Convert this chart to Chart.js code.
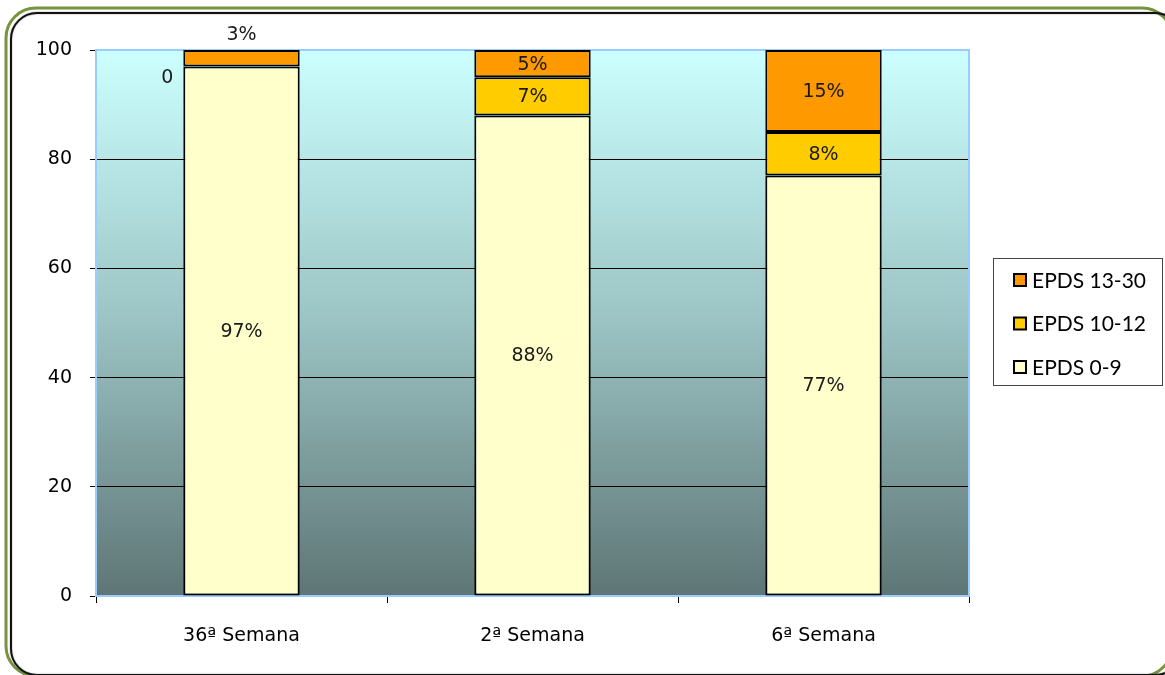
<!DOCTYPE html>
<html>
<head>
<meta charset="utf-8">
<script src="https://cdn.jsdelivr.net/npm/chart.js@4"></script>
<style>
  html, body { margin: 0; padding: 0; background: #fff; }
  #chart { display: block; }
</style>
</head>
<body>
<canvas id="chart" width="1165" height="675"></canvas>
<script>
const categories = ['36ª Semana', '2ª Semana', '6ª Semana'];
const epds0to9 = [97, 88, 77];
const epds10to12 = [0, 7, 8];
const epds13to30 = [3, 5, 15];
const seriesNames = ['EPDS 0-9', 'EPDS 10-12', 'EPDS 13-30'];
const seriesColors = ['#ffffcc', '#ffcc00', '#ff9900'];
const yTicks = [0, 20, 40, 60, 80, 100];

const axisFont = { family: 'DejaVu Sans', size: 19 };

// marco redondeado + fondo degradado del área de trazado
const backgroundPlugin = {
    id: 'backgroundPlugin',
    beforeDraw(chart) {
        const ctx = chart.ctx;
        const a = chart.chartArea;
        ctx.save();
        ctx.fillStyle = '#fff';
        ctx.fillRect(0, 0, chart.width, chart.height);

        ctx.lineWidth = 3;
        ctx.strokeStyle = '#77933c';
        ctx.beginPath();
        ctx.roundRect(6, 8, 1166, 668, 30);
        ctx.stroke();

        ctx.lineWidth = 2;
        ctx.strokeStyle = '#111';
        ctx.shadowColor = 'rgba(0,0,0,0.35)';
        ctx.shadowBlur = 2;
        ctx.beginPath();
        ctx.roundRect(11, 13, 1170, 662, 26);
        ctx.stroke();
        ctx.shadowBlur = 0;
        ctx.shadowColor = 'transparent';

        const grad = ctx.createLinearGradient(0, a.top, 0, a.bottom);
        grad.addColorStop(0, '#ccffff');
        grad.addColorStop(0.5, '#9bc3c3');
        grad.addColorStop(1, '#5e7575');
        ctx.fillStyle = grad;
        ctx.fillRect(a.left, a.top, a.right - a.left, a.bottom - a.top);
        ctx.restore();
    },
    beforeDatasetsDraw(chart) {
        const ctx = chart.ctx;
        const a = chart.chartArea;
        ctx.save();
        ctx.strokeStyle = '#99ccff';
        ctx.lineWidth = 2;
        ctx.beginPath();
        ctx.moveTo(a.left, a.top);
        ctx.lineTo(a.right, a.top);
        ctx.lineTo(a.right, a.bottom);
        ctx.stroke();
        ctx.restore();
    }
};

// etiquetas de porcentaje sobre cada segmento
const labelPlugin = {
    id: 'labelPlugin',
    afterDatasetsDraw(chart) {
        const ctx = chart.ctx;
        const last = chart.data.datasets.length - 1;
        ctx.save();
        ctx.font = '19px "DejaVu Sans"';
        ctx.fillStyle = '#1a1a1a';
        ctx.textBaseline = 'middle';
        chart.data.datasets.forEach((ds, i) => {
            const meta = chart.getDatasetMeta(i);
            meta.data.forEach((bar, j) => {
                const v = ds.data[j];
                const h = Math.abs(bar.base - bar.y);
                if (v === 0) {
                    ctx.textAlign = 'right';
                    ctx.fillText('0', bar.x - bar.width / 2 - 10, bar.y + 12);
                } else if (h < 25 && i === last) {
                    ctx.textAlign = 'center';
                    ctx.fillText(v + '%', bar.x, bar.y - 15);
                } else {
                    ctx.textAlign = 'center';
                    ctx.fillText(v + '%', bar.x, (bar.y + bar.base) / 2 + 1);
                }
            });
        });
        ctx.restore();
    }
};

// leyenda con recuadro a la derecha
const legendBoxPlugin = {
    id: 'legendBoxPlugin',
    afterDraw(chart) {
        const ctx = chart.ctx;
        const x = 993, y = 258, w = 169, h = 127;
        ctx.save();
        ctx.strokeStyle = '#444';
        ctx.lineWidth = 1;
        ctx.strokeRect(x + 0.5, y + 0.5, w, h);
        ctx.font = '21px Lato';
        ctx.textBaseline = 'middle';
        ctx.textAlign = 'left';
        const items = chart.data.datasets.slice().reverse();
        items.forEach((ds, k) => {
            const cy = y + 22 + k * 43.5;
            ctx.fillStyle = ds.backgroundColor;
            ctx.fillRect(x + 21, cy - 6, 12, 12);
            ctx.strokeStyle = '#000';
            ctx.lineWidth = 2;
            ctx.strokeRect(x + 21, cy - 6, 12, 12);
            ctx.fillStyle = '#000';
            ctx.fillText(ds.label, x + 39, cy + 1);
        });
        ctx.restore();
    }
};

const seriesData = [epds0to9, epds10to12, epds13to30];
const datasets = seriesNames.map((name, i) => ({
    label: name,
    data: seriesData[i],
    backgroundColor: seriesColors[i],
    borderColor: '#000',
    borderWidth: 2,
    borderSkipped: false,
    barPercentage: 0.4,
    categoryPercentage: 1.0
}));

const ctx = document.getElementById('chart').getContext('2d');
const chart = new Chart(ctx, {
    type: 'bar',
    data: {
        labels: categories,
        datasets: datasets
    },
    options: {
        responsive: false,
        animation: false,
        devicePixelRatio: 1,
        layout: {
            padding: { left: 0, right: 196, top: 50, bottom: 0 }
        },
        plugins: {
            legend: { display: false },
            tooltip: { enabled: false }
        },
        scales: {
            x: {
                stacked: true,
                afterFit: s => { s.height = 79; },
                grid: {
                    offset: true,
                    drawOnChartArea: false,
                    drawTicks: true,
                    tickLength: 7,
                    tickColor: '#000'
                },
                border: { color: '#99ccff', width: 2 },
                ticks: {
                    color: '#000',
                    font: axisFont,
                    padding: 22
                }
            },
            y: {
                stacked: true,
                min: 0,
                max: 100,
                afterFit: s => { s.width = 96; },
                afterBuildTicks: s => { s.ticks = yTicks.map(v => ({ value: v })); },
                grid: {
                    color: c => (c.tick && (c.tick.value === 0 || c.tick.value === 100)) ? 'rgba(0,0,0,0)' : '#000',
                    lineWidth: 1,
                    tickLength: 6,
                    tickColor: '#000'
                },
                border: { color: '#99ccff', width: 2 },
                ticks: {
                    color: '#000',
                    font: axisFont,
                    padding: 18
                }
            }
        }
    },
    plugins: [backgroundPlugin, labelPlugin, legendBoxPlugin]
});
</script>
</body>
</html>
